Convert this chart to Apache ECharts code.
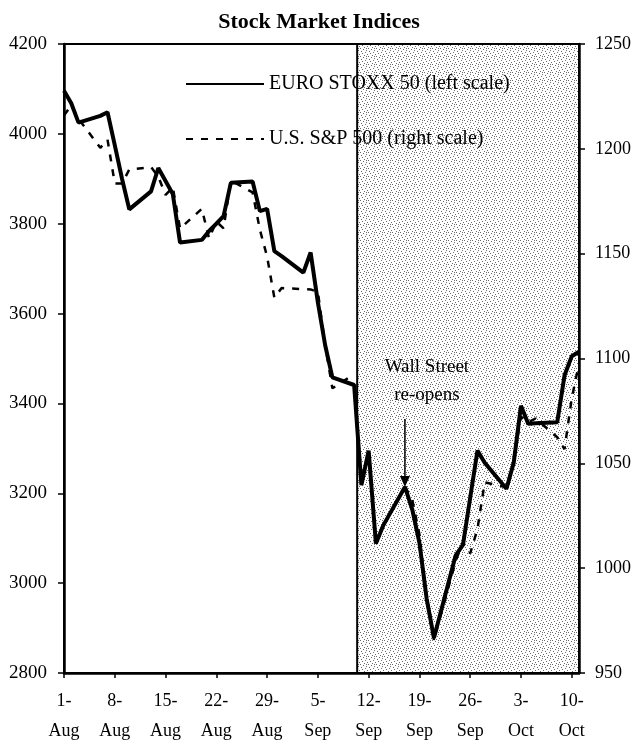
<!DOCTYPE html>
<html>
<head>
<meta charset="utf-8">
<script src="https://cdn.jsdelivr.net/npm/echarts@6/dist/echarts.min.js"></script>
<style>
html,body{margin:0;padding:0;background:#fff;}
#chart{width:638px;height:746px;}
</style>
</head>
<body>
<div id="chart"></div>
<script>
// ---- DATA ----
const euroDates = [
 '2001-08-01','2001-08-02','2001-08-03','2001-08-06','2001-08-07','2001-08-08','2001-08-09','2001-08-10',
 '2001-08-13','2001-08-14','2001-08-15','2001-08-16','2001-08-17','2001-08-20','2001-08-21','2001-08-22',
 '2001-08-23','2001-08-24','2001-08-27','2001-08-28','2001-08-29','2001-08-30','2001-08-31',
 '2001-09-03','2001-09-04','2001-09-05','2001-09-06','2001-09-07','2001-09-10','2001-09-11','2001-09-12',
 '2001-09-13','2001-09-14','2001-09-17','2001-09-18','2001-09-19','2001-09-20','2001-09-21','2001-09-24',
 '2001-09-25','2001-09-26','2001-09-27','2001-09-28',
 '2001-10-01','2001-10-02','2001-10-03','2001-10-04','2001-10-05','2001-10-08','2001-10-09','2001-10-10','2001-10-11'
];
const euroValues = [
 4096,4068,4025,4040,4048,3975,3900,3832,
 3872,3924,3895,3866,3758,3764,3784,3800,
 3817,3891,3894,3828,3833,3739,3728,
 3691,3736,3625,3530,3458,3441,3218,3295,
 3088,3128,3214,3165,3090,2965,2878,3062,
 3085,3190,3295,3268,
 3210,3268,3395,3355,3356,3358,3462,3505,3515
];
// S&P 500: Wall Street closed 11-14 Sep (blank cells -> gap in the line)
const spDates = [
 '2001-08-01','2001-08-02','2001-08-03','2001-08-06','2001-08-07','2001-08-08','2001-08-09','2001-08-10',
 '2001-08-13','2001-08-14','2001-08-15','2001-08-16','2001-08-17','2001-08-20','2001-08-21','2001-08-22',
 '2001-08-23','2001-08-24','2001-08-27','2001-08-28','2001-08-29','2001-08-30','2001-08-31',
 '2001-09-04','2001-09-05','2001-09-06','2001-09-07','2001-09-10','2001-09-11','2001-09-12','2001-09-13','2001-09-14',
 '2001-09-17','2001-09-18','2001-09-19','2001-09-20','2001-09-21','2001-09-24','2001-09-25','2001-09-26',
 '2001-09-27','2001-09-28',
 '2001-10-01','2001-10-02','2001-10-03','2001-10-04','2001-10-05','2001-10-08','2001-10-09','2001-10-10','2001-10-11'
];
const spValues = [
 1215.93,1220.75,1214.35,1200.48,1204.40,1183.53,1183.43,1190.16,
 1191.29,1186.73,1178.02,1181.66,1161.97,1171.41,1157.26,1165.31,
 1162.09,1184.93,1179.21,1161.51,1148.56,1129.03,1133.58,
 1132.94,1131.74,1106.40,1085.78,1092.54,null,null,null,null,
 1038.77,1032.74,1016.10,984.54,965.80,1003.45,1012.27,1007.04,
 1018.61,1040.94,
 1038.55,1051.33,1072.28,1069.63,1071.38,1062.44,1056.75,1080.99,1097.43
];
const xTickLabels = ['1-\nAug','8-\nAug','15-\nAug','22-\nAug','29-\nAug','5-\nSep','12-\nSep','19-\nSep','26-\nSep','3-\nOct','10-\nOct'];
const xStartDate = '2001-08-01';
const xEndDate = '2001-10-11';
const shadeStartDate = '2001-09-10T10:00:00Z';
const annotationDate = '2001-09-17';
const annotationText = 'Wall Street\nre-opens';
const leftTicks = {min: 2800, max: 4200, step: 200};
const rightTicks = {min: 950, max: 1250, step: 50};
const seriesNames = ['EURO STOXX 50 (left scale)', 'U.S. S&P 500 (right scale)'];
const titleText = 'Stock Market Indices';

// ---- helpers ----
const DAY = 86400000;
const t0 = Date.parse(xStartDate + 'T00:00:00Z');
function dayOf(s){ const t = s.length > 10 ? Date.parse(s) : Date.parse(s + 'T00:00:00Z'); return (t - t0) / DAY; }
const euroData = euroDates.map((d,i)=>[dayOf(d), euroValues[i]]);
const spData = spDates.map((d,i)=>[dayOf(d), spValues[i] === null ? '-' : spValues[i]]);
const xMax = dayOf(xEndDate);

const FONT = "'Liberation Serif','Times New Roman',serif";

// dotted pattern for shaded region (fixed dot layout)
const pat = document.createElement('canvas');
pat.width = 8; pat.height = 8;
const pctx = pat.getContext('2d');
pctx.fillStyle = '#ffffff'; pctx.fillRect(0,0,8,8);
pctx.fillStyle = '#6a6a6a';
[[0,0],[3,1],[6,2],[1,3],[5,4],[2,5],[7,6],[4,7],[6,0]].forEach(p=>pctx.fillRect(p[0],p[1],1,1));

const chart = echarts.init(document.getElementById('chart'), null, {renderer:'canvas'});

const option = {
  animation: false,
  backgroundColor: '#fff',
  title: {
    text: titleText, left: 'center', top: 6,
    textStyle: {fontFamily: FONT, fontWeight: 'bold', fontSize: 22, color: '#000'}
  },
  legend: {
    orient: 'vertical', left: 185, top: 74, padding: 0, itemWidth: 78, itemHeight: 20, itemGap: 35,
    textStyle: {fontFamily: FONT, fontSize: 20, color: '#000'},
    itemStyle: {opacity: 0},
    data: seriesNames
  },
  grid: {left: 64, right: 59, top: 44, bottom: 71, show: true, borderColor: '#000', borderWidth: 2, containLabel: false},
  xAxis: {
    type: 'value', min: 0, max: xMax, interval: 7,
    axisLine: {show: true, lineStyle: {color: '#000', width: 2.5}},
    axisTick: {show: true, length: 5, lineStyle: {color: '#000', width: 1.5}},
    splitLine: {show: false},
    axisLabel: {
      showMaxLabel: false,
      fontFamily: FONT, fontSize: 18, color: '#000', lineHeight: 30, margin: 13,
      formatter: v => (v % 7 === 0 && xTickLabels[v/7]) ? xTickLabels[v/7] : ''
    }
  },
  yAxis: [
    {
      type: 'value', min: leftTicks.min, max: leftTicks.max, interval: leftTicks.step, position: 'left',
      axisLine: {show: true, lineStyle: {color: '#000', width: 2.5}},
      axisTick: {show: true, length: 6, lineStyle: {color: '#000', width: 1.5}},
      splitLine: {show: false},
      axisLabel: {fontFamily: FONT, fontSize: 19, color: '#000', margin: 17, formatter: v => String(v)}
    },
    {
      type: 'value', min: rightTicks.min, max: rightTicks.max, interval: rightTicks.step, position: 'right',
      axisLine: {show: true, lineStyle: {color: '#000', width: 2.5}},
      axisTick: {show: true, length: 6, lineStyle: {color: '#000', width: 1.5}},
      splitLine: {show: false},
      axisLabel: {fontFamily: FONT, fontSize: 18, color: '#000', margin: 16, formatter: v => String(v)}
    }
  ],
  series: [
    {
      name: 'shade', type: 'line', data: [], z: 1, silent: true,
      markArea: {
        silent: true,
        itemStyle: {color: {image: pat, repeat: 'repeat'}, borderColor: '#000', borderWidth: 2},
        data: [[{xAxis: dayOf(shadeStartDate)}, {xAxis: xMax}]]
      }
    },
    {
      name: seriesNames[1], type: 'line', yAxisIndex: 1, data: spData, z: 3,
      symbol: 'none', showSymbol: false, connectNulls: false,
      lineStyle: {color: '#000', width: 2.5, type: [7, 8]},
      itemStyle: {color: '#000'}
    },
    {
      name: seriesNames[0], type: 'line', yAxisIndex: 0, data: euroData, z: 4,
      symbol: 'none', showSymbol: false,
      lineStyle: {color: '#000', width: 4},
      itemStyle: {color: '#000'}
    }
  ]
};
chart.setOption(option);

// annotation with arrow pointing at the re-opening date on the S&P line
const annIdx = spDates.indexOf(annotationDate);
const tip = chart.convertToPixel({xAxisIndex: 0, yAxisIndex: 1}, [dayOf(annotationDate), spValues[annIdx]]);
const arrowLen = 68;
chart.setOption({
  graphic: [
    {type: 'text', x: tip[0] + 22, y: tip[1] - 134, z: 10,
     style: {text: annotationText, fontFamily: FONT, fontSize: 19, fill: '#000', align: 'center', lineHeight: 28, textVerticalAlign: 'top'}},
    {type: 'line', z: 10, shape: {x1: tip[0], y1: tip[1] - arrowLen, x2: tip[0], y2: tip[1] - 9},
     style: {stroke: '#000', lineWidth: 1.5}},
    {type: 'polygon', z: 10, shape: {points: [[tip[0]-5, tip[1]-11],[tip[0]+5, tip[1]-11],[tip[0], tip[1]]]},
     style: {fill: '#000'}}
  ]
});
</script>
</body>
</html>
